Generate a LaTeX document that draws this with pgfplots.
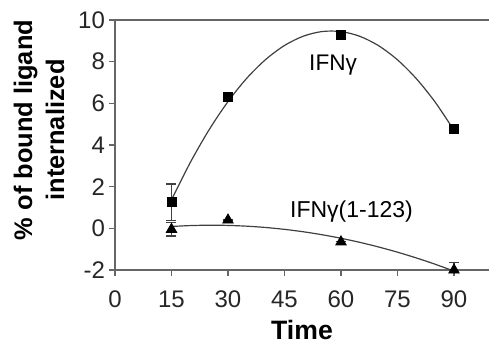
\documentclass[border=0pt]{standalone}
\usepackage{fontspec}
\setmainfont{Liberation Sans}
\usepackage{pgfplots}
\pgfplotsset{compat=1.18}
\begin{document}
\begin{tikzpicture}
\begin{axis}[
  scale only axis,
  width=187pt, height=125pt,
  xmin=0, xmax=99.3, ymin=-2, ymax=10,
  axis x line*=bottom, axis y line*=left,
  axis line style={draw=gray!80!black, line width=0.8pt},
  xtick={0,15,30,45,60,75,90},
  ytick={-2,0,2,4,6,8,10},
  extra y ticks={10},
  extra y tick labels={},
  extra y tick style={grid=major, major grid style={draw=gray!80!black, line width=0.8pt}},
  tick align=outside,
  major tick length=3pt,
  tick style={draw=gray!80!black, line width=0.8pt},
  /pgf/number format/assume math mode=true,
  ticklabel style={font=\fontsize{12}{14}\selectfont, text=black!85},
  xticklabel style={yshift=-4pt},
  yticklabel style={xshift=1.5pt},
  xlabel={Time},
  xlabel style={font=\fontsize{13.3}{15}\bfseries, inner sep=0pt, at={(axis description cs:0.5,-0.278)}, anchor=base},
  ylabel={\% of bound ligand\\internalized},
  ylabel style={font=\fontsize{12.7}{16}\bfseries, align=center, at={(axis description cs:-0.203,0.56)}, anchor=center},
  clip=true,
]
% fitted curves
\addplot[black!75, line width=0.6pt, smooth] coordinates {
(15,1.367)(20,3.164)(25,4.736)(30,6.084)(35,7.207)(40,8.104)(45,8.777)(50,9.224)(55,9.447)(60,9.445)(65,9.217)(70,8.765)(75,8.088)(80,7.185)(85,6.059)(90,4.708)};
\addplot[black!75, line width=0.6pt, smooth] coordinates {
(15,0.089)(20,0.1325)(25,0.1495)(30,0.1398)(35,0.1037)(40,0.0408)(45,-0.0486)(50,-0.1648)(55,-0.3075)(60,-0.4768)(65,-0.6728)(70,-0.8954)(75,-1.1446)(80,-1.4205)(85,-1.7229)(90,-2.0521)};
% data
\addplot[only marks, mark=square*, mark size=2.25pt, black,
  error bars/.cd, y dir=both, y explicit, error bar style={black!75, line width=0.6pt},
  error mark options={rotate=90, mark size=2.5pt, black!75, line width=0.6pt}]
  coordinates {(15,1.25) +- (0,0.88) (30,6.3) +- (0,0) (60,9.3) +- (0,0) (90,4.75) +- (0,0)};
\addplot[only marks, mark=triangle*, mark size=3pt, black,
  error bars/.cd, y dir=both, y explicit, error bar style={black!75, line width=0.6pt},
  error mark options={rotate=90, mark size=2.5pt, black!75, line width=0.6pt}]
  coordinates {(15,-0.05) +- (0,0.32) (30,0.4) +- (0,0) (60,-0.65) +- (0,0) (90,-2.0) +- (0,0.37)};
\node[font=\fontsize{11.3}{13}\selectfont] at (axis cs:57.9,7.86) {IFNγ};
\node[font=\fontsize{11.5}{13}\selectfont] at (axis cs:62.8,0.80) {IFNγ(1-123)};
\end{axis}
\pgfresetboundingbox
\path[use as bounding box] (-57.5pt,-37pt) rectangle (187pt,135pt);
\end{tikzpicture}
\end{document}
